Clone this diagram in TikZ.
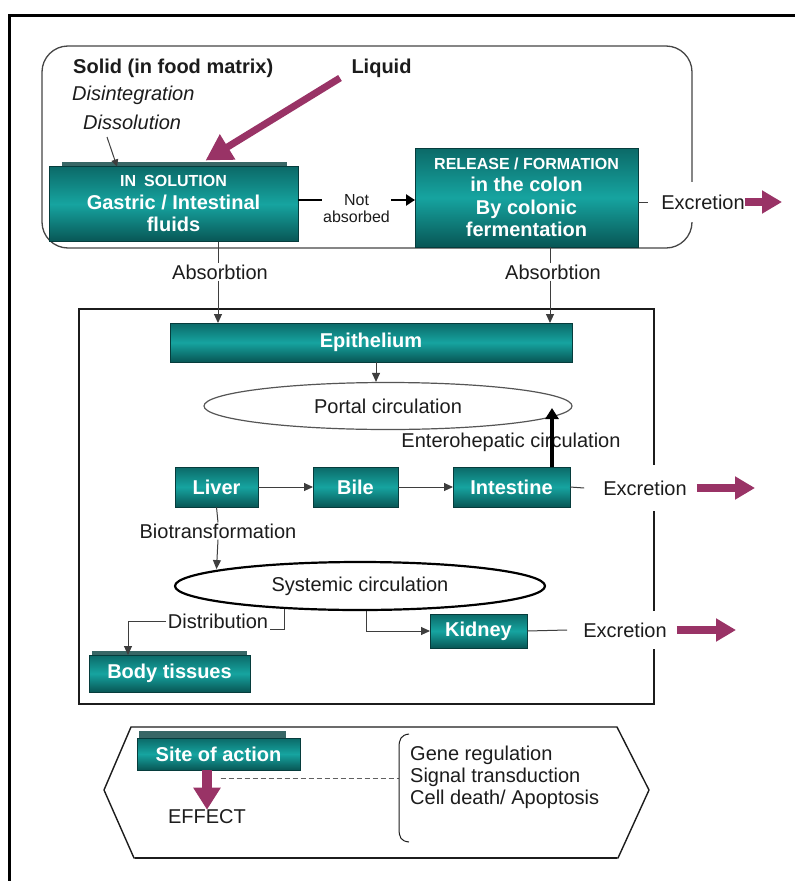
\documentclass[tikz,border=0pt]{standalone}
\usepackage{fontspec}
\setmainfont{Liberation Sans}
\usetikzlibrary{arrows.meta,shapes.geometric,calc}
\definecolor{tealL}{RGB}{22,164,160}
\definecolor{tealD}{RGB}{8,86,85}
\definecolor{plum}{RGB}{153,51,102}
\definecolor{ink}{RGB}{28,28,28}
\pgfdeclarelayer{bg}
\pgfsetlayers{bg,main}
\tikzset{
  tbox/.style={draw=tealD!70!black, line width=0.8pt, top color=tealD!75!tealL, bottom color=tealD, middle color=tealL,
    text=white, font=\bfseries\fontsize{20}{22.5}\selectfont, align=center, inner sep=0pt, outer sep=0pt},
  lbl/.style={text=ink, font=\fontsize{20}{22}\selectfont, inner sep=1pt},
  arr/.style={draw=ink!85, line width=1pt, -{Triangle[length=9pt,width=8pt]}},
  ln/.style={draw=ink!85, line width=1pt},
  parr/.style={draw=plum, line width=8pt, -{Triangle[length=20pt,width=22pt]}},
  strip/.style={fill=tealD!60!gray},
}
\begin{document}
\begin{tikzpicture}[x=1pt,y=-1pt]
\useasboundingbox (0,0) rectangle (795,881);
\fill[white] (0,0) rectangle (795,881);
% outer frame
\draw[line width=3.5pt, draw=black] (9.5,881) -- (9.5,15.5) -- (795,15.5);
% top rounded box
\draw[draw=gray!55!black, line width=1.3pt, rounded corners=26pt] (42,46) rectangle (692,248);

% top texts
\node[lbl, anchor=west, font=\bfseries\fontsize{20}{22}\selectfont] (solid) at (72,68) {Solid (in food matrix)};
\node[lbl, anchor=west, font=\itshape\fontsize{20}{22}\selectfont] (disint) at (71,95) {Disintegration};
\node[lbl, anchor=west, font=\itshape\fontsize{20}{22}\selectfont] (dissol) at (82,122) {Dissolution};
\node[lbl, font=\bfseries\fontsize{20}{22}\selectfont] (liquid) at (381.5,68) {Liquid};

% in solution box
\fill[strip] (62,162) rectangle (287,167);
\node[tbox, minimum width=249pt, minimum height=75pt] (insol) at (173.5,204)
  {{\fontsize{16}{18}\selectfont IN\enspace SOLUTION}\\Gastric / Intestinal\\fluids};
% release box
\node[tbox, minimum width=223pt, minimum height=99pt] (rel) at (526.5,197.5)
  {{\fontsize{16}{18}\selectfont RELEASE / FORMATION}\\in the colon\\By colonic\\fermentation};

\coordinate (dsA) at (107,137);
\draw[arr, -{Triangle[length=7pt,width=7pt]}] (dsA) -- ([xshift=68pt]insol.north west);
\coordinate (liqA) at (340,78);
\draw[draw=plum, line width=7pt, -{Triangle[length=26pt,width=28pt]}] (liqA) -- ([xshift=32pt,yshift=6pt]insol.north);

% not absorbed
\draw[line width=2.5pt, draw=black, -{Triangle[length=9pt,width=11pt]}] ([yshift=4pt]insol.east) --
  node[fill=white, text=ink, font=\fontsize{16}{17}\selectfont, align=center, inner sep=1pt, anchor=north, yshift=8pt]{Not\\absorbed}
  ([yshift=4pt]insol.east -| rel.west);

% excretion 1
\node[lbl, fill=white, inner sep=3pt, minimum height=40pt] (ex1) at (703,202) {Excretion};
\draw[ln] (rel.east |- ex1) -- ([xshift=-10pt]ex1.west);
\coordinate (ex1t) at (782,202);
\draw[parr] ([xshift=-3pt]ex1.east) -- (ex1t);

% middle box
\draw[line width=1.8pt, draw=ink] (79,309) rectangle (654,704);

\node[tbox, minimum width=402pt, minimum height=39pt] (epi) at (371,342.5) {Epithelium};

% absorbtion
\node[lbl, fill=white] (ab1) at (220,272) {Absorbtion};
\node[lbl, fill=white] (ab2) at (553,272) {Absorbtion};
\draw[ln] ([xshift=-2pt]insol.south -| ab1) -- ([xshift=-2pt]ab1.north);
\draw[arr] ([xshift=-2pt]ab1.south) -- ([xshift=-2pt]epi.north -| ab1);
\draw[ln] ([xshift=-3pt]rel.south -| ab2) -- ([xshift=-3pt]ab2.north);
\draw[arr] ([xshift=-3pt]ab2.south) -- ([xshift=-3pt]epi.north -| ab2);

% portal
\node[ellipse, draw=ink!75, line width=1.2pt, fill=white, minimum width=368pt, minimum height=47pt, inner sep=0pt,
  text=ink, font=\fontsize{20}{22}\selectfont] (portal) at (388,406) {Portal circulation};
\draw[arr] ([xshift=5pt]epi.south) -- ([xshift=5pt]epi.south |- portal.north);

% liver row
\node[tbox, minimum width=83pt, minimum height=40pt] (liver) at (216.5,487) {Liver};
\node[tbox, minimum width=85pt, minimum height=40pt] (bile) at (355.5,487) {Bile};
\node[tbox, minimum width=117pt, minimum height=40pt] (intest) at (511.5,487) {Intestine};
\begin{pgfonlayer}{bg}
\draw[arr] (liver.north |- portal.center) -- (liver.north);
\end{pgfonlayer}
\draw[arr] (liver) -- (bile);
\draw[arr] (bile) -- (intest);

\node[lbl] (entero) at (511,442) {Enterohepatic circulation};
\draw[line width=3.5pt, draw=black, -{Triangle[length=11pt,width=13pt]}] ([xshift=40.5pt]intest.north) -- ++(0,-59);

% excretion 2
\node[lbl, fill=white, inner sep=3pt, minimum height=46pt] (ex2) at (645,488) {Excretion};
\draw[ln] (intest.east) -- ([xshift=-16pt]ex2.west);
\coordinate (ex2t) at (755,488);
\draw[parr] ([xshift=7pt]ex2.east) -- (ex2t);

% biotransformation
\node[lbl] (bio) at (218,531) {Biotransformation};
\node[ellipse, draw=black, line width=2.2pt, fill=white, minimum width=370pt, minimum height=48pt, inner sep=0pt,
  text=ink, font=\fontsize{20}{22}\selectfont] (sys) at (360,586) {Systemic circulation};
\draw[ln] (liver.south) -- (bio.north);
\draw[arr] (bio.south) -- (sys.173.8 -| liver.south);

% distribution
\node[lbl, inner sep=2pt] (distr) at (218,621) {Distribution};
\node[tbox, minimum width=161pt, minimum height=37pt] (body) at (169.5,673.5) {Body tissues};
\fill[strip] (92,651) rectangle (247,655);
\draw[ln] (sys.197.6) |- ([yshift=-8pt]distr.east);
\draw[arr] (distr.west) -| ([xshift=-41.5pt]body.north);

% kidney
\node[tbox, minimum width=97pt, minimum height=34pt] (kidney) at (478.5,631) {Kidney};
\draw[arr] ([xshift=6pt]sys.south) |- (kidney.west);
\node[lbl, fill=white, inner sep=3pt, minimum height=38pt] (ex3) at (625,630) {Excretion};
\draw[ln] (kidney.east) -- ([xshift=-13pt]ex3.west);
\coordinate (ex3t) at (736,630);
\draw[parr] ([xshift=7pt]ex3.east) -- (ex3t);

% bottom shape
\draw[line width=1.4pt, draw=ink, line join=round] (104,790) -- (131,727) -- (617,727) -- (649,790) -- (618,858) -- (134,858) -- cycle;
\draw[line width=2.6pt, draw=ink] (135,858) -- (617,858);

\fill[strip] (139,731) rectangle (286,738);
\node[tbox, minimum width=163pt, minimum height=32pt] (site) at (218.5,754) {Site of action};
\node[lbl] (effect) at (207,817) {EFFECT};
\draw[draw=plum, line width=10pt, -{Triangle[length=22pt,width=26pt]}] (effect.north |- site.south) -- ([yshift=-1pt]effect.north);

\coordinate (brc) at (399,778);
\draw[draw=ink!70, line width=1pt, dash pattern=on 5pt off 3pt] ([xshift=2pt]site.south |- brc) -- (brc);
\draw[line width=1pt, draw=ink] (409,734) .. controls (401,735) and (399,739) .. (399,748) -- (399,828) .. controls (399,838) and (401,841) .. (409,842);
\node[lbl, anchor=west, align=left] (genes) at (409,777) {Gene regulation\\Signal transduction\\Cell death/ Apoptosis};
\end{tikzpicture}
\end{document}
